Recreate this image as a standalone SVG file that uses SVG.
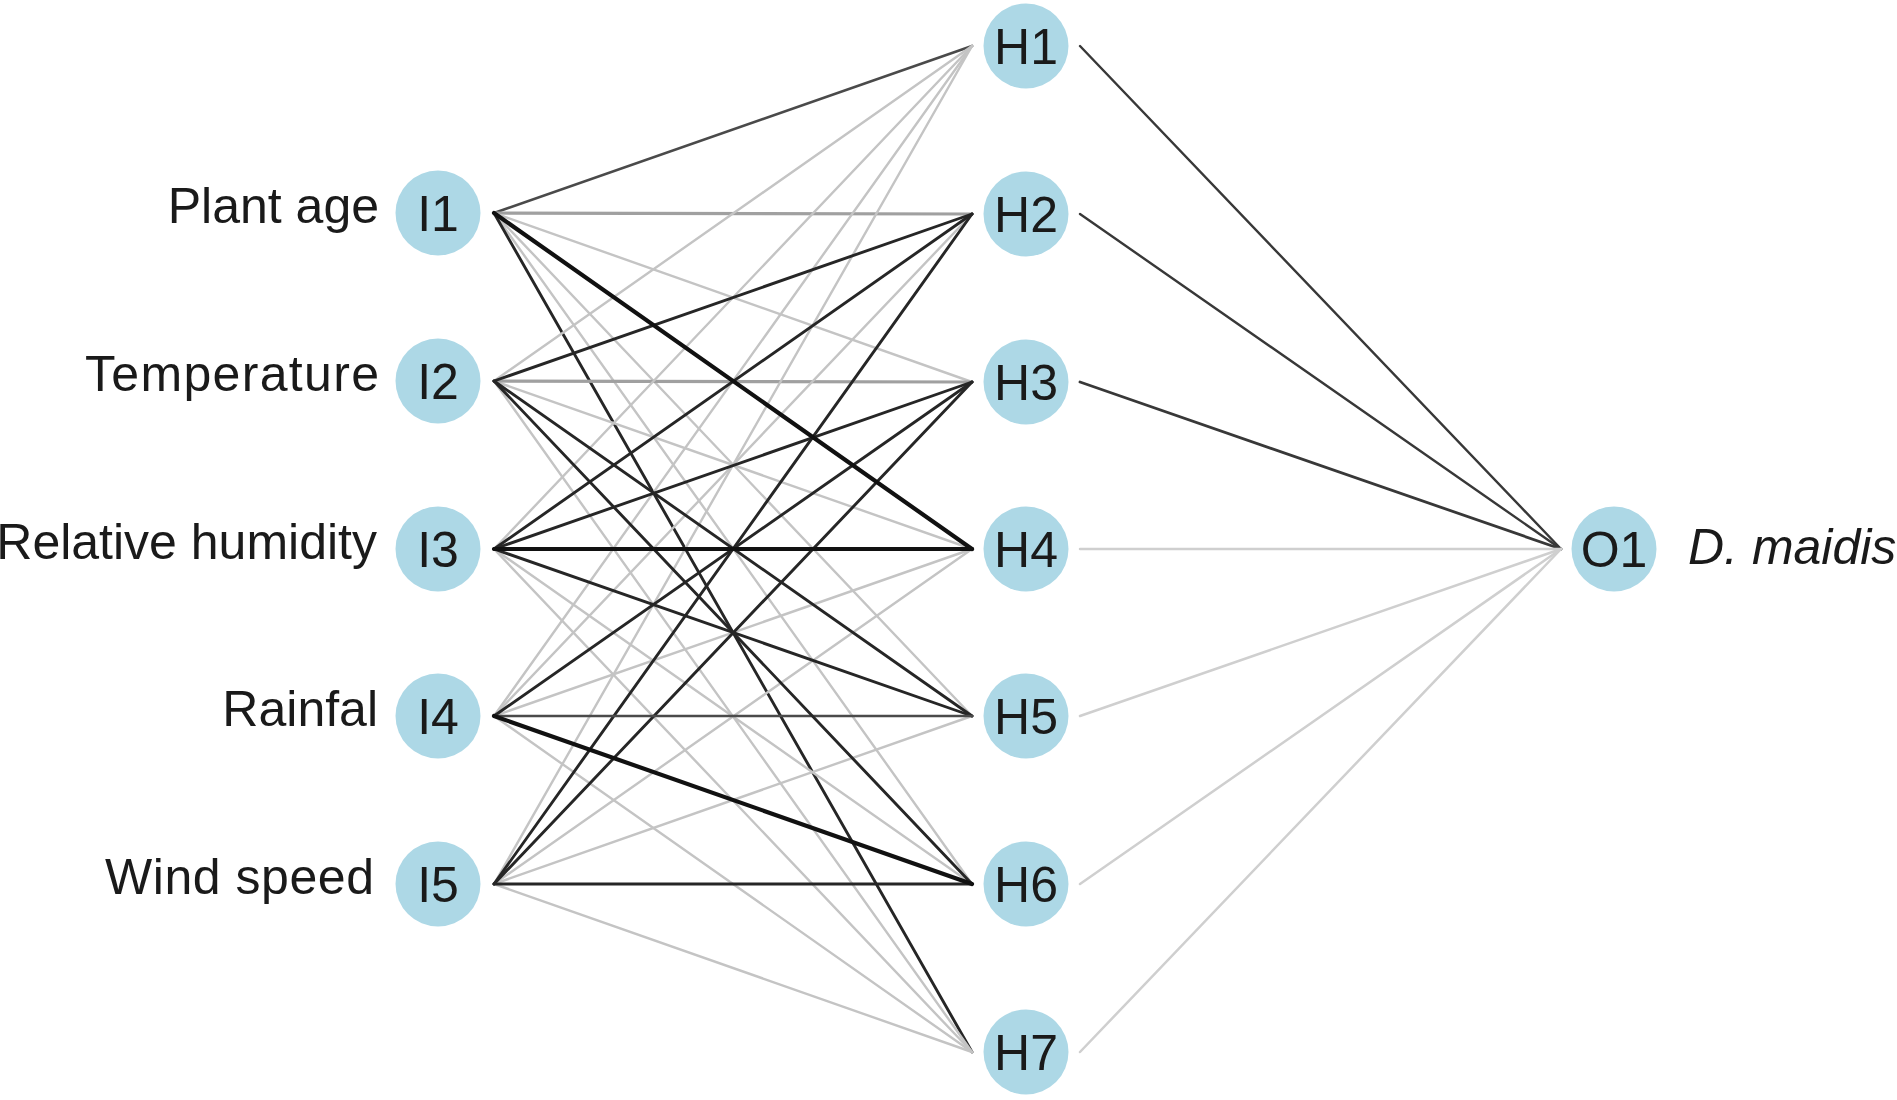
<svg xmlns="http://www.w3.org/2000/svg" width="1897" height="1100" viewBox="0 0 1897 1100">
<style>
.bg{fill:#ffffff}
.node{fill:#add8e6}
.nt{font-family:"Liberation Sans",Arial,sans-serif;font-size:50px;fill:#1a1a1a;text-anchor:middle}
.lab{font-family:"Liberation Sans",Arial,sans-serif;font-size:50px;fill:#1a1a1a;text-anchor:end}
.out{font-family:"Liberation Sans",Arial,sans-serif;font-size:50px;fill:#1a1a1a;font-style:italic}
line{stroke-linecap:round}
.k{stroke:#111111;stroke-width:4.2}
.d{stroke:#262626;stroke-width:2.9}
.m{stroke:#4a4a4a;stroke-width:2.7}
.g{stroke:#a0a0a0;stroke-width:3.2}
.l{stroke:#c4c4c4;stroke-width:2.4}
.lo{stroke:#cfcfcf;stroke-width:2.5}
.ho{stroke:#383838;stroke-width:2.4}
</style>
<rect class="bg" x="0" y="0" width="1897" height="1100"/>
<g id="connectors">
<!-- I1 -->
<line class="m" x1="494" y1="213" x2="972" y2="46"/>
<line class="g" x1="494" y1="213" x2="972" y2="214"/>
<line class="l" x1="494" y1="213" x2="972" y2="382"/>
<line class="l" x1="494" y1="213" x2="972" y2="716"/>
<line class="l" x1="494" y1="213" x2="972" y2="884"/>
<line class="d" x1="494" y1="213" x2="972" y2="1052"/>
<!-- I2 -->
<line class="l" x1="494" y1="381" x2="972" y2="46"/>
<line class="l" x1="494" y1="381" x2="972" y2="549"/>
<line class="l" x1="494" y1="381" x2="972" y2="1052"/>
<line class="g" x1="494" y1="381" x2="972" y2="382"/>
<!-- I3 -->
<line class="l" x1="494" y1="549" x2="972" y2="46"/>
<line class="l" x1="494" y1="549" x2="972" y2="884"/>
<line class="l" x1="494" y1="549" x2="972" y2="1052"/>
<!-- I4 -->
<line class="l" x1="494" y1="716" x2="972" y2="46"/>
<line class="l" x1="494" y1="716" x2="972" y2="214"/>
<line class="l" x1="494" y1="716" x2="972" y2="549"/>
<line class="l" x1="494" y1="716" x2="972" y2="1052"/>
<!-- I5 -->
<line class="l" x1="494" y1="884" x2="972" y2="46"/>
<line class="l" x1="494" y1="884" x2="972" y2="549"/>
<line class="l" x1="494" y1="884" x2="972" y2="716"/>
<line class="l" x1="494" y1="884" x2="972" y2="1052"/>
<!-- dark positive -->
<line class="d" x1="494" y1="381" x2="972" y2="214"/>
<line class="d" x1="494" y1="549" x2="972" y2="214"/>
<line class="d" x1="494" y1="884" x2="972" y2="214"/>
<line class="d" x1="494" y1="549" x2="972" y2="382"/>
<line class="d" x1="494" y1="716" x2="972" y2="382"/>
<line class="d" x1="494" y1="884" x2="972" y2="382"/>
<line class="d" x1="494" y1="381" x2="972" y2="716"/>
<line class="d" x1="494" y1="549" x2="972" y2="716"/>
<line class="m" x1="494" y1="716" x2="972" y2="716"/>
<line class="d" x1="494" y1="381" x2="972" y2="884"/>
<line class="d" x1="494" y1="884" x2="972" y2="884"/>
<line class="k" x1="494" y1="213" x2="972" y2="549"/>
<line class="k" x1="494" y1="549" x2="972" y2="549"/>
<line class="k" x1="494" y1="716" x2="972" y2="884"/>
<!-- hidden to output -->
<line class="ho" x1="1080" y1="46" x2="1561" y2="549"/>
<line class="ho" x1="1080" y1="214" x2="1561" y2="549"/>
<line class="ho" x1="1080" y1="382" x2="1561" y2="549" style="stroke-width:2.8"/>
<line class="lo" x1="1080" y1="549" x2="1561" y2="549"/>
<line class="lo" x1="1080" y1="716" x2="1561" y2="549"/>
<line class="lo" x1="1080" y1="884" x2="1561" y2="549"/>
<line class="lo" x1="1080" y1="1052" x2="1561" y2="549"/>
</g>
<g id="I1"><circle class="node" cx="438" cy="213" r="42.5"/><text class="nt" x="438" y="231">I1</text><text class="lab" x="379" y="223">Plant age</text></g>
<g id="I2"><circle class="node" cx="438" cy="381" r="42.5"/><text class="nt" x="438" y="399">I2</text><text class="lab" x="379" y="391" textLength="294" lengthAdjust="spacing">Temperature</text></g>
<g id="I3"><circle class="node" cx="438" cy="549" r="42.5"/><text class="nt" x="438" y="567">I3</text><text class="lab" x="377" y="559">Relative humidity</text></g>
<g id="I4"><circle class="node" cx="438" cy="716" r="42.5"/><text class="nt" x="438" y="734">I4</text><text class="lab" x="378" y="726">Rainfal</text></g>
<g id="I5"><circle class="node" cx="438" cy="884" r="42.5"/><text class="nt" x="438" y="902">I5</text><text class="lab" x="374" y="894" textLength="269" lengthAdjust="spacing">Wind speed</text></g>
<g id="H1"><circle class="node" cx="1026" cy="46" r="42.5"/><text class="nt" x="1026" y="64">H1</text></g>
<g id="H2"><circle class="node" cx="1026" cy="214" r="42.5"/><text class="nt" x="1026" y="232">H2</text></g>
<g id="H3"><circle class="node" cx="1026" cy="382" r="42.5"/><text class="nt" x="1026" y="400">H3</text></g>
<g id="H4"><circle class="node" cx="1026" cy="549" r="42.5"/><text class="nt" x="1026" y="567">H4</text></g>
<g id="H5"><circle class="node" cx="1026" cy="716" r="42.5"/><text class="nt" x="1026" y="734">H5</text></g>
<g id="H6"><circle class="node" cx="1026" cy="884" r="42.5"/><text class="nt" x="1026" y="902">H6</text></g>
<g id="H7"><circle class="node" cx="1026" cy="1052" r="42.5"/><text class="nt" x="1026" y="1070">H7</text></g>
<g id="O1"><circle class="node" cx="1614" cy="549" r="42.5"/><text class="nt" x="1614" y="567">O1</text><text class="out" x="1688" y="564">D. maidis</text></g>
</svg>
